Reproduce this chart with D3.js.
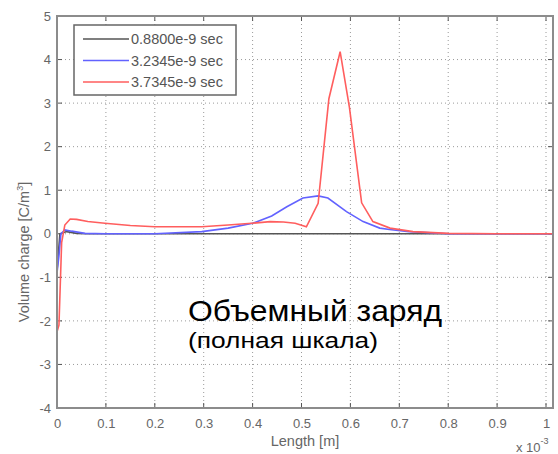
<!DOCTYPE html>
<html>
<head>
<meta charset="utf-8">
<script src="https://cdn.jsdelivr.net/npm/d3@7"></script>
<style>
body { margin: 0; background: #fff; }
svg { display: block; font-family: "Liberation Sans", Arial, sans-serif; }
.grid line { stroke: #9a9a9a; stroke-dasharray: 1,3; stroke-width: 1; }
.tick text { fill: #666; font-size: 13px; }
.label { fill: #666; font-size: 14.5px; }
</style>
</head>
<body>
<div id="plot"></div>
<script>
// values in units of 1e-3 m (x) and C/m^3 (y)
var xTicks = [0, 0.1, 0.2, 0.3, 0.4, 0.5, 0.6, 0.7, 0.8, 0.9, 1];
var yTicks = [-4, -3, -2, -1, 0, 1, 2, 3, 4, 5];
var seriesNames = ["0.8800e-9 sec", "3.2345e-9 sec", "3.7345e-9 sec"];
var seriesColors = ["#555555", "#6262ff", "#ff5e5e"];

var blackX = [0, 0.006, 0.02, 0.04, 0.06, 0.3, 0.6, 0.8, 1.014];
var blackY = [-0.85, 0, 0.05, 0.01, 0, 0, 0, 0, 0];

var blueX = [0, 0.004, 0.008, 0.016, 0.03, 0.057, 0.1, 0.2, 0.296, 0.35, 0.4, 0.439, 0.47, 0.503, 0.534, 0.554, 0.592, 0.626, 0.66, 0.68, 0.72, 0.8, 1.014];
var blueY = [-0.9, -0.5, 0.0, 0.09, 0.06, 0.01, 0, 0, 0.05, 0.13, 0.24, 0.41, 0.62, 0.82, 0.87, 0.82, 0.51, 0.28, 0.13, 0.1, 0.05, 0.0, 0];

var redX = [0, 0.004, 0.0095, 0.016, 0.027, 0.04, 0.063, 0.098, 0.15, 0.2, 0.296, 0.35, 0.398, 0.436, 0.463, 0.487, 0.51, 0.534, 0.556, 0.579, 0.598, 0.623, 0.646, 0.681, 0.728, 0.8, 0.9, 1.014];
var redY = [-2.25, -2.1, -0.2, 0.2, 0.34, 0.33, 0.28, 0.24, 0.19, 0.16, 0.16, 0.2, 0.24, 0.28, 0.27, 0.24, 0.16, 0.7, 3.1, 4.18, 2.9, 0.71, 0.28, 0.13, 0.05, 0.01, 0, 0];

var W = 558, H = 454;
var margin = {top: 16, right: 5, bottom: 46, left: 57};

var svg = d3.select('#plot').append('svg')
  .attr('width', W).attr('height', H);

var x = d3.scaleLinear().domain([0, 1.0143]).range([margin.left, W - margin.right]);
var y = d3.scaleLinear().domain([-4, 5]).range([H - margin.bottom, margin.top]);

// grid
var grid = svg.append('g').attr('class', 'grid');
grid.selectAll('line.gx').data(xTicks.slice(1)).enter().append('line')
  .attr('x1', function(d){ return x(d); }).attr('x2', function(d){ return x(d); })
  .attr('y1', y(5)).attr('y2', y(-4));
grid.selectAll('line.gy').data(yTicks.slice(1, -1)).enter().append('line')
  .attr('y1', function(d){ return y(d); }).attr('y2', function(d){ return y(d); })
  .attr('x1', x.range()[0]).attr('x2', x.range()[1]);

// axes (hyphen minus like the original)
var xAxis = d3.axisBottom(x).tickValues(xTicks).tickSize(0).tickPadding(11)
  .tickFormat(function(d){ return d === 0 ? '0' : d === 1 ? '1' : d3.format('.1f')(d); });
var yAxis = d3.axisLeft(y).tickValues(yTicks).tickSize(0).tickPadding(6)
  .tickFormat(function(d){ return String(d); });

var gx = svg.append('g').attr('transform', 'translate(0,' + y(-4) + ')').call(xAxis);
var gy = svg.append('g').attr('transform', 'translate(' + x(0) + ',0)').call(yAxis);
gx.select('.domain').remove();
gy.select('.domain').remove();

// small inner ticks on all four sides
var tk = svg.append('g').attr('stroke', '#555').attr('stroke-width', 1);
xTicks.forEach(function(d){
  tk.append('line').attr('x1', x(d)).attr('x2', x(d)).attr('y1', y(-4)).attr('y2', y(-4) - 5);
  tk.append('line').attr('x1', x(d)).attr('x2', x(d)).attr('y1', y(5)).attr('y2', y(5) + 5);
});
yTicks.forEach(function(d){
  tk.append('line').attr('y1', y(d)).attr('y2', y(d)).attr('x1', x.range()[0]).attr('x2', x.range()[0] + 5);
  tk.append('line').attr('y1', y(d)).attr('y2', y(d)).attr('x1', x.range()[1]).attr('x2', x.range()[1] - 5);
});

// curves
var line = d3.line().x(function(d){ return x(d[0]); }).y(function(d){ return y(d[1]); });
var series = [d3.zip(blackX, blackY), d3.zip(blueX, blueY), d3.zip(redX, redY)];
series.forEach(function(s, i){
  svg.append('path').datum(s)
    .attr('d', line)
    .attr('fill', 'none')
    .attr('stroke', seriesColors[i])
    .attr('stroke-width', 1.6);
});

// box
svg.append('rect')
  .attr('x', x.range()[0]).attr('y', y(5))
  .attr('width', x.range()[1] - x.range()[0]).attr('height', y(-4) - y(5))
  .attr('fill', 'none').attr('stroke', '#8c8c8c').attr('stroke-width', 2);

// legend
var lg = svg.append('g');
lg.append('rect').attr('x', 74).attr('y', 25).attr('width', 162).attr('height', 70)
  .attr('fill', '#fff').attr('stroke', '#666').attr('stroke-width', 1.5);
seriesNames.forEach(function(n, i){
  var yy = 39 + i * 21.5;
  lg.append('line').attr('x1', 83).attr('x2', 129).attr('y1', yy).attr('y2', yy)
    .attr('stroke', seriesColors[i]).attr('stroke-width', 1.6);
  lg.append('text').attr('x', 131).attr('y', yy + 5).attr('fill', '#555')
    .style('font-size', '14.5px').text(n);
});

// axis labels
svg.append('text').attr('class', 'label').attr('x', 305).attr('y', 446)
  .attr('text-anchor', 'middle').text('Length [m]');

var xl = svg.append('text').attr('class', 'label').attr('x', 516).attr('y', 452)
  .style('font-size', '13px');
xl.append('tspan').text('x 10');
xl.append('tspan').attr('dy', -8).style('font-size', '9px').text('-3');

var yl = svg.append('text').attr('class', 'label')
  .attr('transform', 'translate(29,252) rotate(-90)').attr('text-anchor', 'middle');
yl.append('tspan').text('Volume charge [C/m');
yl.append('tspan').attr('dy', -6).style('font-size', '9px').text('3');
yl.append('tspan').attr('dy', 6).text(']');

// annotation
svg.append('text').attr('x', 188).attr('y', 321).attr('fill', '#000')
  .style('font-size', '30px').attr('textLength', 254).attr('lengthAdjust', 'spacingAndGlyphs')
  .text('Объемный заряд');
svg.append('text').attr('x', 188).attr('y', 348).attr('fill', '#000')
  .style('font-size', '22px').attr('textLength', 190).attr('lengthAdjust', 'spacingAndGlyphs')
  .text('(полная шкала)');
</script>
</body>
</html>
